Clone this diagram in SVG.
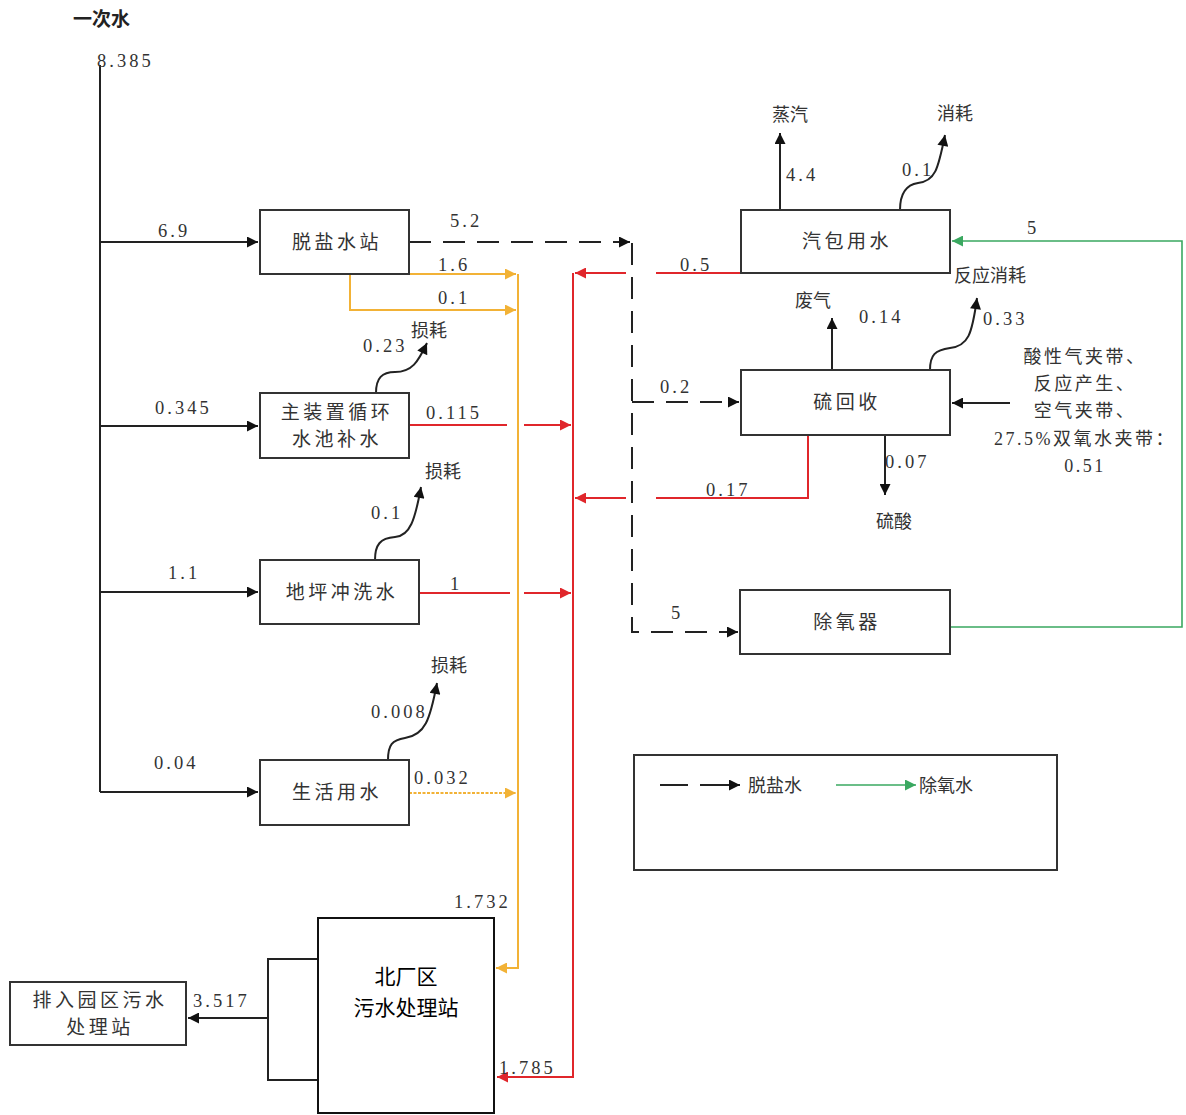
<svg xmlns="http://www.w3.org/2000/svg" width="1186" height="1115" viewBox="0 0 1186 1115">
<defs>
<style>
.box{fill:#fff;stroke:#333;stroke-width:2}
.lbl{font-family:"Liberation Serif","Noto Sans CJK SC",serif;font-size:18.5px;fill:#333;letter-spacing:3px}
.bl{font-family:"Noto Sans CJK SC",sans-serif;font-size:19px;fill:#333;letter-spacing:3.5px;text-anchor:middle}
.cn{font-family:"Noto Sans CJK SC",sans-serif;font-size:18px;fill:#333}
.k{fill:none;stroke:#222;stroke-width:2}
.d{fill:none;stroke:#222;stroke-width:2;stroke-dasharray:22 12}
.o{fill:none;stroke:#f2b236;stroke-width:2}
.r{fill:none;stroke:#e0262b;stroke-width:2}
.g{fill:none;stroke:#3aa860;stroke-width:1.6}
</style>
<marker id="ak" viewBox="0 0 10 10" refX="10" refY="5" markerWidth="16" markerHeight="11" markerUnits="userSpaceOnUse" orient="auto"><path d="M0,0 L10,5 L0,10 z" fill="#111"/></marker>
<marker id="ao" viewBox="0 0 10 10" refX="10" refY="5" markerWidth="16" markerHeight="11" markerUnits="userSpaceOnUse" orient="auto"><path d="M0,0 L10,5 L0,10 z" fill="#f2b236"/></marker>
<marker id="ar" viewBox="0 0 10 10" refX="10" refY="5" markerWidth="16" markerHeight="11" markerUnits="userSpaceOnUse" orient="auto"><path d="M0,0 L10,5 L0,10 z" fill="#e0262b"/></marker>
<marker id="ag" viewBox="0 0 10 10" refX="10" refY="5" markerWidth="16" markerHeight="11" markerUnits="userSpaceOnUse" orient="auto"><path d="M0,0 L10,5 L0,10 z" fill="#3aa860"/></marker>
</defs>
<rect width="1186" height="1115" fill="#fff"/>

<g id="connectors">
<path class="k" d="M100,65 V792"/>
<path class="k" d="M100,242 H258" marker-end="url(#ak)"/>
<path class="k" d="M100,426 H258" marker-end="url(#ak)"/>
<path class="k" d="M100,592 H258" marker-end="url(#ak)"/>
<path class="k" d="M100,792 H258" marker-end="url(#ak)"/>
<path class="d" d="M409,242 H630" marker-end="url(#ak)"/>
<path class="d" d="M632,243 V632 H738" marker-end="url(#ak)"/>
<path class="d" d="M632,402 H739" marker-end="url(#ak)"/>
<path class="o" d="M409,274 H516" marker-end="url(#ao)"/>
<path class="o" d="M350,274 V310 H516" marker-end="url(#ao)"/>
<path class="o" d="M518,274 V968 H496" marker-end="url(#ao)"/>
<path class="o" d="M409,793 H516" stroke-dasharray="3 1.5" stroke-width="2.5" marker-end="url(#ao)"/>
<path class="r" d="M573,273 V1077 H497" marker-end="url(#ar)"/>
<path class="r" d="M741,273 H656"/>
<path class="r" d="M626,273 H575" marker-end="url(#ar)"/>
<path class="r" d="M409,425 H507"/>
<path class="r" d="M524,425 H571" marker-end="url(#ar)"/>
<path class="r" d="M419,593 H510"/>
<path class="r" d="M524,593 H571" marker-end="url(#ar)"/>
<path class="r" d="M808,435 V498 H656"/>
<path class="r" d="M626,498 H575" marker-end="url(#ar)"/>
<path class="g" d="M950,627 H1182 V241 H952" marker-end="url(#ag)"/>
<path class="k" d="M780,210 V133" marker-end="url(#ak)"/>
<path class="k" d="M900,210 C900,195 905,185 918,183 C935,181 938,170 945,135" marker-end="url(#ak)"/>
<path class="k" d="M832,370 V318" marker-end="url(#ak)"/>
<path class="k" d="M930,370 C930,355 935,350 950,348 C968,346 972,335 977,298" marker-end="url(#ak)"/>
<path class="k" d="M1010,403 H952" marker-end="url(#ak)"/>
<path class="k" d="M885,435 V495" marker-end="url(#ak)"/>
<path class="k" d="M376,393 C376,378 382,372 395,372 C412,372 418,362 427,343" marker-end="url(#ak)"/>
<path class="k" d="M375,560 C375,545 380,538 395,537 C410,536 415,520 421,487" marker-end="url(#ak)"/>
<path class="k" d="M388,760 C388,745 392,740 405,738 C425,735 430,720 437,683" marker-end="url(#ak)"/>
<path class="k" d="M318,959 H268 V1080 H318"/>
<path class="k" d="M268,1018 H188" marker-end="url(#ak)"/>
</g>

<g id="n-tuoyan"><rect class="box" x="260" y="210" width="149" height="64"/><text class="bl" x="337" y="249">脱盐水站</text></g>
<g id="n-zhuzhuangzhi"><rect class="box" x="260" y="393" width="149" height="65"/><text class="bl" x="337" y="419">主装置循环</text><text class="bl" x="337" y="446">水池补水</text></g>
<g id="n-dipingchongxi"><rect class="box" x="260" y="560" width="159" height="64"/><text class="bl" x="342" y="599">地坪冲洗水</text></g>
<g id="n-shenghuo"><rect class="box" x="260" y="760" width="149" height="65"/><text class="bl" x="337" y="799">生活用水</text></g>
<g id="n-qibao"><rect class="box" x="741" y="210" width="209" height="63"/><text class="bl" x="847" y="248">汽包用水</text></g>
<g id="n-liuhuishou"><rect class="box" x="741" y="370" width="209" height="65"/><text class="bl" x="847" y="409">硫回收</text></g>
<g id="n-chuyangqi"><rect class="box" x="740" y="590" width="210" height="64"/><text class="bl" x="847" y="629">除氧器</text></g>
<g id="n-beichangqu"><rect x="318" y="918" width="176" height="195" fill="#fff" stroke="#111" stroke-width="2"/><text x="406" y="984" font-family="Noto Sans CJK SC,sans-serif" font-size="21" fill="#000" text-anchor="middle">北厂区</text><text x="406" y="1015" font-family="Noto Sans CJK SC,sans-serif" font-size="21" fill="#000" text-anchor="middle">污水处理站</text></g>
<g id="n-yuanqu"><rect class="box" x="10" y="982" width="176" height="63"/><text class="bl" x="100" y="1007">排入园区污水</text><text class="bl" x="100" y="1034">处理站</text></g>

<g id="legend">
<rect x="634" y="755" width="423" height="115" fill="none" stroke="#333" stroke-width="2"/>
<path class="k" d="M660,785 H688"/>
<path class="k" d="M700,785 H740" marker-end="url(#ak)"/>
<text class="cn" x="748" y="792">脱盐水</text>
<path class="g" d="M836,785 H916" marker-end="url(#ag)"/>
<text class="cn" x="919" y="792">除氧水</text>
</g>

<g id="labels">
<text x="73" y="26" font-family="Noto Sans CJK SC,sans-serif" font-size="19" font-weight="bold" fill="#222">一次水</text>
<text class="lbl" x="97" y="67">8.385</text>
<text class="lbl" x="158" y="237">6.9</text>
<text class="lbl" x="450" y="227">5.2</text>
<text class="lbl" x="438" y="271">1.6</text>
<text class="lbl" x="438" y="304">0.1</text>
<text class="lbl" x="363" y="352">0.23</text>
<text class="cn" x="411" y="337">损耗</text>
<text class="lbl" x="155" y="414">0.345</text>
<text class="lbl" x="426" y="419">0.115</text>
<text class="cn" x="425" y="478">损耗</text>
<text class="lbl" x="371" y="519">0.1</text>
<text class="lbl" x="168" y="579">1.1</text>
<text class="lbl" x="450" y="590">1</text>
<text class="cn" x="431" y="672">损耗</text>
<text class="lbl" x="371" y="718">0.008</text>
<text class="lbl" x="154" y="769">0.04</text>
<text class="lbl" x="414" y="784">0.032</text>
<text class="lbl" x="454" y="908">1.732</text>
<text class="lbl" x="499" y="1074">1.785</text>
<text class="lbl" x="193" y="1007">3.517</text>
<text class="cn" x="772" y="121">蒸汽</text>
<text class="lbl" x="786" y="181">4.4</text>
<text class="cn" x="937" y="120">消耗</text>
<text class="lbl" x="902" y="176">0.1</text>
<text class="lbl" x="680" y="271">0.5</text>
<text class="lbl" x="1027" y="234">5</text>
<text class="cn" x="954" y="282">反应消耗</text>
<text class="cn" x="795" y="307">废气</text>
<text class="lbl" x="859" y="323">0.14</text>
<text class="lbl" x="983" y="325">0.33</text>
<text class="lbl" x="660" y="393">0.2</text>
<text class="lbl" x="885" y="468">0.07</text>
<text class="lbl" x="706" y="496">0.17</text>
<text class="cn" x="876" y="528">硫酸</text>
<text class="lbl" x="671" y="619">5</text>
<g font-family="Liberation Serif,Noto Sans CJK SC,serif" font-size="18" fill="#333" text-anchor="middle" letter-spacing="2.5">
<text x="1085" y="363">酸性气夹带、</text>
<text x="1085" y="390">反应产生、</text>
<text x="1085" y="417">空气夹带、</text>
<text x="1085" y="445">27.5%双氧水夹带：</text>
<text x="1085" y="472">0.51</text>
</g>
</g>
</svg>
